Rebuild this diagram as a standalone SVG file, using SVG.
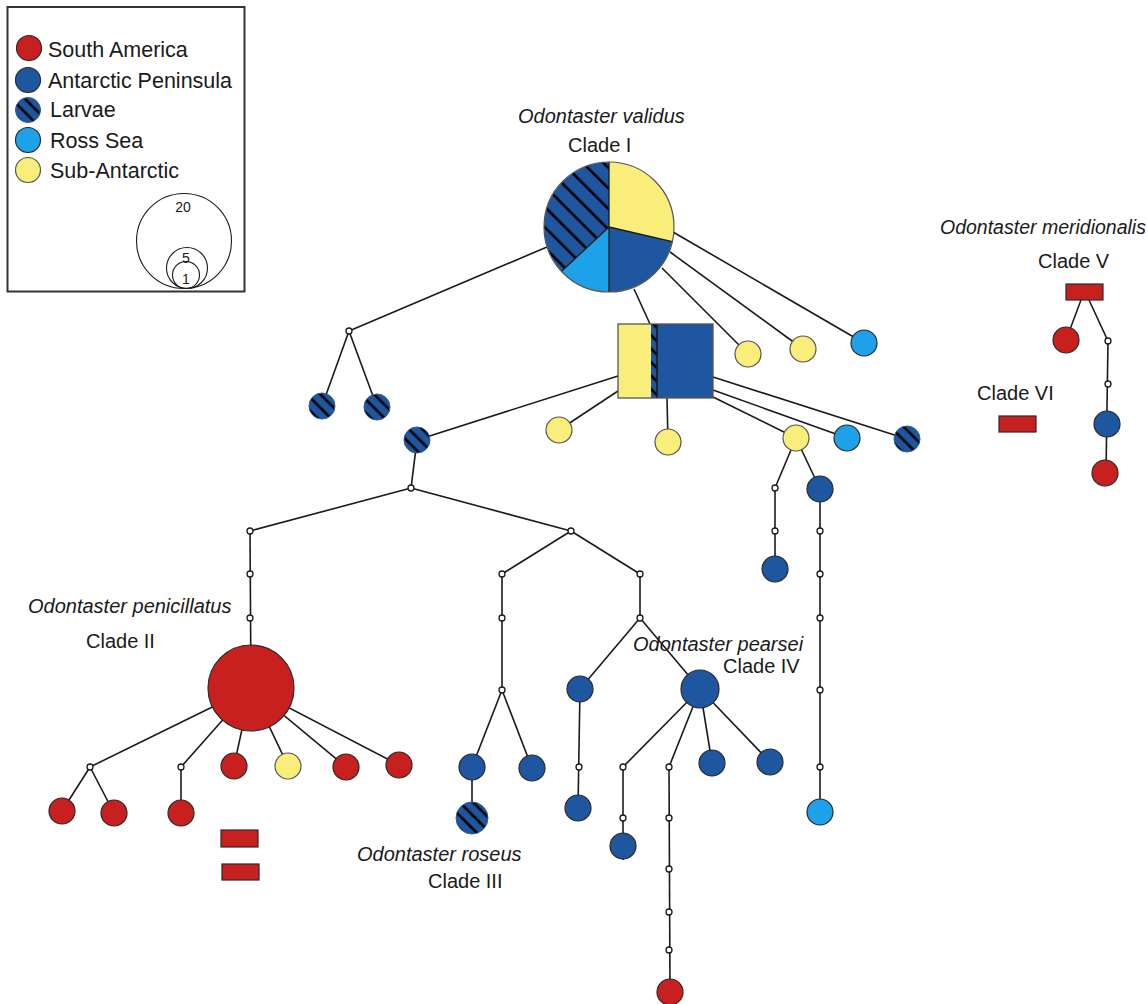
<svg xmlns="http://www.w3.org/2000/svg" width="1148" height="1004" viewBox="0 0 1148 1004">
<defs>
<pattern id="hatch" patternUnits="userSpaceOnUse" width="9.5" height="9.5" patternTransform="rotate(-45)">
<rect width="9.5" height="9.5" fill="#1F56A0"/>
<line x1="4.75" y1="0" x2="4.75" y2="9.5" stroke="#000" stroke-width="2.6"/>
</pattern>
<pattern id="hatchBig" patternUnits="userSpaceOnUse" width="14.5" height="14.5" patternTransform="rotate(-45)">
<rect width="14.5" height="14.5" fill="#1F56A0"/>
<line x1="7" y1="0" x2="7" y2="14.5" stroke="#000" stroke-width="2.6"/>
</pattern>
</defs>
<style>
.t{font-family:"Liberation Sans",Arial,sans-serif;font-size:20px;fill:#1a1a1a}
.i{font-style:italic}
.lg{font-family:"Liberation Sans",Arial,sans-serif;font-size:21.5px;fill:#1a1a1a}
.sz{font-family:"Liberation Sans",Arial,sans-serif;font-size:14px;fill:#1a1a1a;text-anchor:middle}
.e line{stroke:#1a1a1a;stroke-width:1.6;fill:none}
.r{fill:#C8201E;stroke:#2a2a2a;stroke-width:1.2}
.b{fill:#1F56A0;stroke:#2a2a2a;stroke-width:1.2}
.l{fill:url(#hatch);stroke:#2a5aa0;stroke-width:1}
.c{fill:#1DA1E8;stroke:#2a2a2a;stroke-width:1.2}
.y{fill:#F9EE7A;stroke:#555;stroke-width:1.2}
.m{fill:#fff;stroke:#1a1a1a;stroke-width:1.3}
.ring{fill:none;stroke:#1a1a1a;stroke-width:1.1}
</style>
<rect width="1148" height="1004" fill="#fff"/>

<g id="legend">
<rect x="7.5" y="7" width="237" height="284.5" fill="#fff" stroke="#333" stroke-width="2"/>
<circle class="r" cx="29" cy="48" r="12.5"/>
<text class="lg" x="48" y="57">South America</text>
<circle class="b" cx="28" cy="80" r="12.5"/>
<text class="lg" x="48" y="88">Antarctic Peninsula</text>
<circle class="l" cx="28" cy="110" r="12.5"/>
<text class="lg" x="50" y="117">Larvae</text>
<circle class="c" cx="28" cy="140" r="12.5"/>
<text class="lg" x="50" y="148">Ross Sea</text>
<circle class="y" cx="28" cy="170" r="12.5"/>
<text class="lg" x="50" y="178">Sub-Antarctic</text>
<circle class="ring" cx="184" cy="241" r="47.5"/>
<circle class="ring" cx="187" cy="268" r="20.5"/>
<circle class="ring" cx="186" cy="275" r="13.5"/>
<text class="sz" x="183" y="212">20</text>
<text class="sz" x="186" y="263">5</text>
<text class="sz" x="186" y="284">1</text>
</g>

<g id="labels">
<text class="t i" x="518" y="123">Odontaster validus</text>
<text class="t" x="568" y="152">Clade I</text>
<text class="t i" x="940" y="234" style="font-size:19.5px">Odontaster meridionalis</text>
<text class="t" x="1038" y="268">Clade V</text>
<text class="t" x="977" y="400">Clade VI</text>
<text class="t i" x="28" y="613">Odontaster penicillatus</text>
<text class="t" x="86" y="648">Clade II</text>
<text class="t i" x="633" y="651">Odontaster pearsei</text>
<text class="t" x="723" y="673">Clade IV</text>
<text class="t i" x="357" y="861">Odontaster roseus</text>
<text class="t" x="428" y="888">Clade III</text>
</g>

<g id="connectors" class="e">
<line x1="634" y1="289" x2="650" y2="324"/>
<line x1="662" y1="268" x2="748" y2="354"/>
<line x1="670" y1="252" x2="803" y2="349"/>
<line x1="673" y1="232" x2="864" y2="343"/>
<line x1="547" y1="247" x2="349" y2="331"/>
<line x1="349" y1="331" x2="322" y2="406"/>
<line x1="349" y1="331" x2="377" y2="407"/>
<line x1="618" y1="376" x2="417" y2="440"/>
<line x1="618" y1="391" x2="559" y2="430"/>
<line x1="667" y1="398" x2="668" y2="442"/>
<line x1="713" y1="397" x2="796" y2="438"/>
<line x1="713" y1="390" x2="847" y2="438"/>
<line x1="713" y1="377" x2="907" y2="439"/>
<line x1="796" y1="438" x2="775" y2="488"/>
<line x1="796" y1="438" x2="820" y2="489"/>
<line x1="775" y1="488" x2="775" y2="569"/>
<line x1="820" y1="489" x2="820" y2="812"/>
<line x1="417" y1="440" x2="411" y2="488"/>
<line x1="411" y1="488" x2="250" y2="531"/>
<line x1="411" y1="488" x2="571" y2="531"/>
<line x1="250" y1="531" x2="251" y2="688"/>
<line x1="251" y1="688" x2="90" y2="767"/>
<line x1="90" y1="767" x2="62" y2="811"/>
<line x1="90" y1="767" x2="114" y2="813"/>
<line x1="251" y1="688" x2="181" y2="767"/>
<line x1="181" y1="767" x2="181" y2="813"/>
<line x1="251" y1="688" x2="234" y2="766"/>
<line x1="251" y1="688" x2="288" y2="766"/>
<line x1="251" y1="688" x2="346" y2="767"/>
<line x1="251" y1="688" x2="399" y2="765"/>
<line x1="571" y1="531" x2="502" y2="574"/>
<line x1="571" y1="531" x2="640" y2="574"/>
<line x1="502" y1="574" x2="502" y2="690"/>
<line x1="502" y1="690" x2="472" y2="767"/>
<line x1="502" y1="690" x2="532" y2="768"/>
<line x1="472" y1="767" x2="472" y2="818"/>
<line x1="640" y1="574" x2="640" y2="618"/>
<line x1="640" y1="618" x2="580" y2="689"/>
<line x1="640" y1="618" x2="700" y2="689"/>
<line x1="580" y1="689" x2="578" y2="808"/>
<line x1="700" y1="689" x2="623" y2="767"/>
<line x1="623" y1="767" x2="623" y2="860"/>
<line x1="700" y1="689" x2="669" y2="767"/>
<line x1="669" y1="767" x2="670" y2="992"/>
<line x1="700" y1="689" x2="712" y2="763"/>
<line x1="700" y1="689" x2="770" y2="762"/>
<line x1="1081" y1="300" x2="1066" y2="340"/>
<line x1="1089" y1="300" x2="1108" y2="341"/>
<line x1="1108" y1="341" x2="1106" y2="473"/>
</g>

<g id="node-clade1-pie">
<path d="M609,227 L609,162 A65,65 0 0 1 672.3,241.6 Z" fill="#F9EE7A"/>
<path d="M609,227 L672.3,241.6 A65,65 0 0 1 609,292 Z" fill="#1F56A0"/>
<path d="M609,227 L609,292 A65,65 0 0 1 561.5,271.3 Z" fill="#1DA1E8"/>
<path d="M609,227 L561.5,271.3 A65,65 0 0 1 609,162 Z" fill="url(#hatchBig)"/>
<path d="M609,162 L609,292 M609,227 L672.3,241.6 M609,227 L561.5,271.3" stroke="#1a1a1a" stroke-width="1.3" fill="none"/>
<circle cx="609" cy="227" r="65" fill="none" stroke="#555" stroke-width="1.2"/>
</g>

<g id="node-clade1-rect">
<rect x="618" y="324" width="33" height="74" fill="#F9EE7A"/>
<rect x="651" y="324" width="6" height="74" fill="url(#hatch)"/>
<rect x="657" y="324" width="56" height="74" fill="#1F56A0"/>
<line x1="657" y1="324" x2="657" y2="398" stroke="#1a1a1a" stroke-width="1.6"/>
<rect x="618" y="324" width="95" height="74" fill="none" stroke="#555" stroke-width="1.3"/>
</g>

<g id="median-vectors">
<circle class="m" cx="349" cy="331" r="3"/>
<circle class="m" cx="775" cy="488" r="3"/>
<circle class="m" cx="775" cy="531" r="3"/>
<circle class="m" cx="820" cy="531" r="3"/>
<circle class="m" cx="820" cy="574" r="3"/>
<circle class="m" cx="820" cy="618" r="3"/>
<circle class="m" cx="820" cy="690" r="3"/>
<circle class="m" cx="820" cy="767" r="3"/>
<circle class="m" cx="411" cy="488" r="3"/>
<circle class="m" cx="250" cy="531" r="3"/>
<circle class="m" cx="250" cy="574" r="3"/>
<circle class="m" cx="250" cy="618" r="3"/>
<circle class="m" cx="571" cy="531" r="3"/>
<circle class="m" cx="502" cy="574" r="3"/>
<circle class="m" cx="640" cy="574" r="3"/>
<circle class="m" cx="502" cy="618" r="3"/>
<circle class="m" cx="502" cy="690" r="3"/>
<circle class="m" cx="640" cy="618" r="3"/>
<circle class="m" cx="90" cy="767" r="3"/>
<circle class="m" cx="181" cy="767" r="3"/>
<circle class="m" cx="579" cy="767" r="3"/>
<circle class="m" cx="623" cy="767" r="3"/>
<circle class="m" cx="623" cy="818" r="3"/>
<circle class="m" cx="669" cy="767" r="3"/>
<circle class="m" cx="669" cy="818" r="3"/>
<circle class="m" cx="669" cy="869" r="3"/>
<circle class="m" cx="669" cy="912" r="3"/>
<circle class="m" cx="669" cy="950" r="3"/>
<circle class="m" cx="1108" cy="341" r="3"/>
<circle class="m" cx="1108" cy="384" r="3"/>
</g>

<g id="nodes-larvae">
<circle class="l" cx="322" cy="406" r="13"/>
<circle class="l" cx="377" cy="407" r="13"/>
<circle class="l" cx="417" cy="440" r="13"/>
<circle class="l" cx="907" cy="439" r="13"/>
<circle class="l" cx="472" cy="818" r="16"/>
</g>

<g id="nodes-subantarctic">
<circle class="y" cx="748" cy="354" r="13"/>
<circle class="y" cx="803" cy="349" r="13"/>
<circle class="y" cx="559" cy="430" r="13"/>
<circle class="y" cx="668" cy="442" r="13"/>
<circle class="y" cx="796" cy="438" r="13"/>
<circle class="y" cx="288" cy="766" r="13"/>
</g>

<g id="nodes-rosssea">
<circle class="c" cx="864" cy="343" r="13"/>
<circle class="c" cx="847" cy="438" r="13"/>
<circle class="c" cx="820" cy="812" r="13"/>
</g>

<g id="nodes-peninsula">
<circle class="b" cx="820" cy="489" r="13"/>
<circle class="b" cx="775" cy="569" r="13"/>
<circle class="b" cx="472" cy="767" r="13"/>
<circle class="b" cx="532" cy="768" r="13"/>
<circle class="b" cx="580" cy="689" r="13"/>
<circle class="b" cx="578" cy="808" r="13"/>
<circle class="b" cx="623" cy="846" r="13"/>
<circle class="b" cx="712" cy="763" r="13"/>
<circle class="b" cx="770" cy="762" r="13"/>
<circle class="b" cx="1107" cy="424" r="13"/>
<circle class="b" cx="700" cy="689" r="19"/>
</g>

<g id="nodes-southamerica">
<circle class="r" cx="251" cy="688" r="43"/>
<circle class="r" cx="62" cy="811" r="13"/>
<circle class="r" cx="114" cy="813" r="13"/>
<circle class="r" cx="181" cy="813" r="13"/>
<circle class="r" cx="234" cy="766" r="13"/>
<circle class="r" cx="346" cy="767" r="13"/>
<circle class="r" cx="399" cy="765" r="13"/>
<circle class="r" cx="1066" cy="340" r="13"/>
<circle class="r" cx="1105" cy="473" r="13"/>
<circle class="r" cx="670" cy="992" r="13"/>
<rect class="r" x="221" y="830" width="37" height="17"/>
<rect class="r" x="222" y="864" width="37" height="16"/>
<rect class="r" x="1066" y="284" width="37" height="16"/>
<rect class="r" x="999" y="416" width="37" height="16"/>
</g>
</svg>
